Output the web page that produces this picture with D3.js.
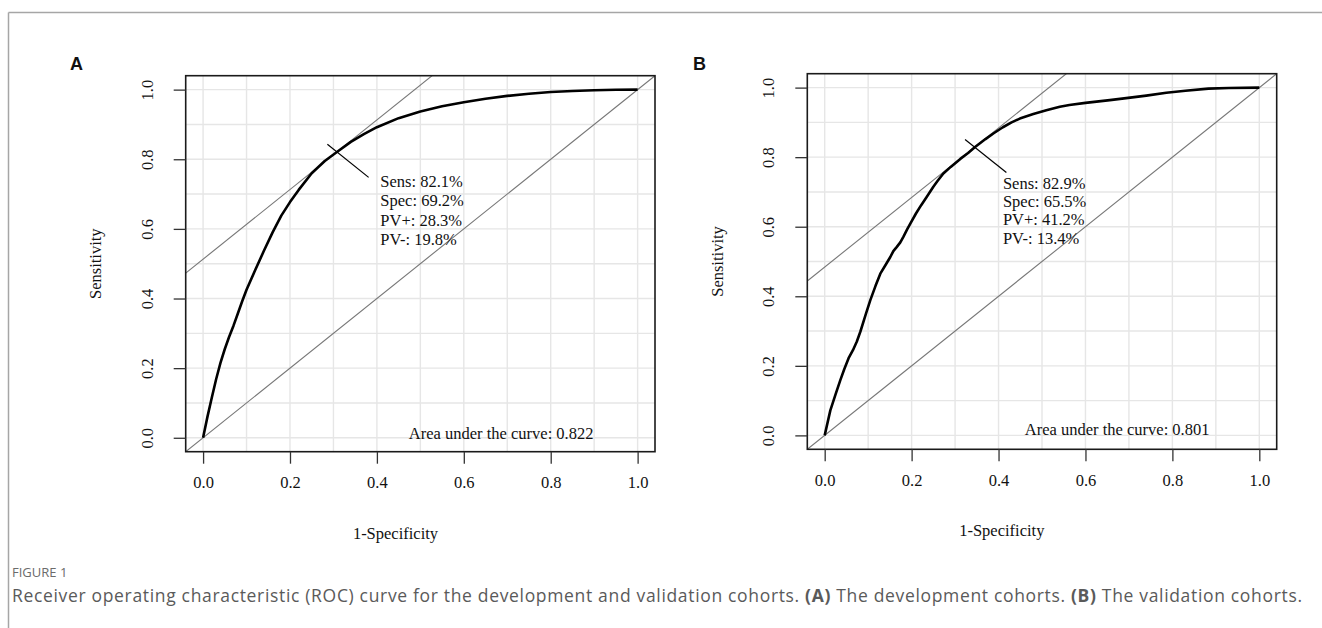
<!DOCTYPE html>
<html>
<head>
<meta charset="utf-8">
<script src="https://cdn.jsdelivr.net/npm/d3@7"></script>
<style>
  body { margin: 0; background: #fff; }
  .serif { font-family: "Liberation Serif", "Times New Roman", serif; fill: #111; }
</style>
</head>
<body>
<svg id="fig" width="1322" height="628"></svg>
<script>
// ROC curve points (1-specificity, sensitivity)
const fprA = [0, 0.01, 0.02, 0.03, 0.04, 0.05, 0.06, 0.07, 0.08, 0.09, 0.10, 0.12, 0.14, 0.16, 0.18, 0.20, 0.22, 0.25, 0.28, 0.308, 0.34, 0.37, 0.40, 0.45, 0.50, 0.55, 0.60, 0.65, 0.70, 0.75, 0.80, 0.85, 0.90, 0.95, 1.0];
const tprA = [0, 0.06, 0.115, 0.168, 0.215, 0.255, 0.29, 0.322, 0.357, 0.392, 0.425, 0.482, 0.537, 0.59, 0.638, 0.677, 0.712, 0.76, 0.795, 0.821, 0.85, 0.872, 0.892, 0.918, 0.937, 0.952, 0.964, 0.974, 0.982, 0.988, 0.993, 0.996, 0.998, 0.9995, 1.0];

const fprB = [0, 0.013, 0.025, 0.036, 0.045, 0.055, 0.065, 0.074, 0.082, 0.095, 0.105, 0.117, 0.128, 0.14, 0.151, 0.158, 0.166, 0.174, 0.181, 0.19, 0.197, 0.21, 0.222, 0.235, 0.25, 0.26, 0.273, 0.29, 0.312, 0.33, 0.346, 0.37, 0.388, 0.41, 0.43, 0.449, 0.48, 0.51, 0.541, 0.563, 0.6, 0.656, 0.689, 0.74, 0.786, 0.83, 0.883, 0.93, 1.0];
const tprB = [0, 0.072, 0.118, 0.159, 0.19, 0.222, 0.245, 0.27, 0.298, 0.35, 0.389, 0.43, 0.465, 0.49, 0.513, 0.53, 0.542, 0.555, 0.571, 0.593, 0.609, 0.638, 0.662, 0.686, 0.715, 0.732, 0.753, 0.772, 0.795, 0.812, 0.829, 0.852, 0.868, 0.886, 0.9, 0.911, 0.924, 0.935, 0.945, 0.95, 0.956, 0.964, 0.969, 0.977, 0.985, 0.991, 0.997, 0.999, 1.0];

// optimal cut-off point (1-spec, sens) and its printed statistics
const optA = [0.308, 0.821];
const optB = [0.345, 0.829];
const statsA = ["Sens: 82.1%", "Spec: 69.2%", "PV+: 28.3%", "PV-: 19.8%"];
const statsB = ["Sens: 82.9%", "Spec: 65.5%", "PV+: 41.2%", "PV-: 13.4%"];
const aucA = "Area under the curve: 0.822";
const aucB = "Area under the curve: 0.801";

const axisTicks = [0, 0.2, 0.4, 0.6, 0.8, 1.0];
const gridTicks = [0, 0.1, 0.2, 0.3, 0.4, 0.5, 0.6, 0.7, 0.8, 0.9, 1.0];
const xTitle = "1-Specificity";
const yTitle = "Sensitivity";
const figLabel = "FIGURE 1";
const captionParts = [
  ["Receiver operating characteristic (ROC) curve for the development and validation cohorts. ", false],
  ["(A)", true], [" The development cohorts. ", false],
  ["(B)", true], [" The validation cohorts.", false]
];

const svg = d3.select("#fig");
svg.append("rect").attr("width", 1322).attr("height", 628).attr("fill", "#fff");

// figure frame (top and left rule)
svg.append("line").attr("x1", 8.5).attr("x2", 1322).attr("y1", 12.5).attr("y2", 12.5)
  .attr("stroke", "#a6a6a6").attr("stroke-width", 1.5);
svg.append("line").attr("x1", 8.5).attr("x2", 8.5).attr("y1", 12.5).attr("y2", 628)
  .attr("stroke", "#a6a6a6").attr("stroke-width", 1.5);

function drawPanel(p) {
  const x = d3.scaleLinear().domain([-0.04, 1.04]).range([p.left, p.right]);
  const y = d3.scaleLinear().domain([-0.04, 1.04]).range([p.bottom, p.top]);
  const g = svg.append("g");

  g.append("clipPath").attr("id", "clip" + p.id)
    .append("rect")
    .attr("x", p.left).attr("y", p.top)
    .attr("width", p.right - p.left).attr("height", p.bottom - p.top);

  // grid
  g.selectAll(".vgrid").data(gridTicks).enter().append("line")
    .attr("x1", d => x(d)).attr("x2", d => x(d))
    .attr("y1", p.top).attr("y2", p.bottom)
    .attr("stroke", "#e6e6e6").attr("stroke-width", 1.4);
  g.selectAll(".hgrid").data(gridTicks).enter().append("line")
    .attr("y1", d => y(d)).attr("y2", d => y(d))
    .attr("x1", p.left).attr("x2", p.right)
    .attr("stroke", "#e6e6e6").attr("stroke-width", 1.4);

  const plot = g.append("g").attr("clip-path", `url(#clip${p.id})`);
  const line = d3.line().x(d => x(d[0])).y(d => y(d[1]));

  // chance diagonal and the slope-1 tangent through the optimal point
  const b = p.opt[1] - p.opt[0];
  plot.append("path").attr("d", line([[-0.04, -0.04], [1.04, 1.04]]))
    .attr("fill", "none").attr("stroke", "#777").attr("stroke-width", 1.1);
  plot.append("path").attr("d", line([[-0.04, -0.04 + b], [1.04, 1.04 + b]]))
    .attr("fill", "none").attr("stroke", "#777").attr("stroke-width", 1.1);

  // ROC curve
  plot.append("path").datum(p.fpr.map((f, i) => [f, p.tpr[i]]))
    .attr("d", line)
    .attr("fill", "none").attr("stroke", "#000").attr("stroke-width", 2.6)
    .attr("stroke-linejoin", "round");

  // marker segment at the optimal point
  g.append("path")
    .attr("d", line([[p.opt[0] - 0.022, p.opt[1] + 0.022], [p.opt[0] + 0.073, p.opt[1] - 0.073]]))
    .attr("stroke", "#000").attr("stroke-width", 1.2);

  // box
  g.append("rect")
    .attr("x", p.left).attr("y", p.top)
    .attr("width", p.right - p.left).attr("height", p.bottom - p.top)
    .attr("fill", "none").attr("stroke", "#1a1a1a").attr("stroke-width", 1.6);

  // axes ticks
  const xAxis = d3.axisBottom(x).tickValues(axisTicks).tickFormat(d3.format(".1f"))
    .tickSize(12).tickPadding(13);
  const xg = g.append("g").attr("transform", `translate(0,${p.bottom})`).call(xAxis);
  xg.select(".domain").remove();
  xg.selectAll("line").attr("stroke", "#333").attr("stroke-width", 1.3);
  xg.selectAll("text").attr("class", "serif").attr("font-size", 16.5);

  const yAxis = d3.axisLeft(y).tickValues(axisTicks).tickFormat(d3.format(".1f"))
    .tickSize(12).tickPadding(0);
  const yg = g.append("g").attr("transform", `translate(${p.left},0)`).call(yAxis);
  yg.select(".domain").remove();
  yg.selectAll("line").attr("stroke", "#333").attr("stroke-width", 1.3);
  // each tick group is already translated to its y position
  yg.selectAll("text")
    .attr("class", "serif").attr("font-size", 16.5)
    .attr("x", 0).attr("y", 0).attr("dy", null)
    .attr("text-anchor", "middle")
    .attr("transform", `translate(${-38.5 + 5.5},0) rotate(-90)`);

  // axis titles
  g.append("text").attr("class", "serif").attr("font-size", 16.5)
    .attr("text-anchor", "middle")
    .attr("x", p.xTitleX).attr("y", p.bottom + 87)
    .text(xTitle);
  g.append("text").attr("class", "serif").attr("font-size", 16.5)
    .attr("text-anchor", "middle")
    .attr("transform", `translate(${p.left - 90 + 5.5},${(p.top + p.bottom) / 2}) rotate(-90)`)
    .text(yTitle);

  // statistics text
  g.selectAll(".stat").data(p.stats).enter().append("text")
    .attr("class", "serif").attr("font-size", 16.5)
    .attr("x", x(p.statPos[0]))
    .attr("y", (d, i) => y(p.statPos[1]) + 5.5 + i * p.statGap)
    .text(d => d);

  g.append("text").attr("class", "serif").attr("font-size", 16.5)
    .attr("text-anchor", "middle")
    .attr("x", x(p.aucPos[0])).attr("y", y(p.aucPos[1]) + 5.5)
    .text(p.auc);

  // panel letter
  svg.append("text")
    .attr("x", p.letterX).attr("y", 70)
    .attr("font-family", "'Liberation Sans', Arial, sans-serif")
    .attr("font-weight", "bold").attr("font-size", 18)
    .attr("fill", "#111")
    .text(p.id);
}

drawPanel({
  id: "A", left: 185.7, right: 655, top: 75.7, bottom: 451.7,
  fpr: fprA, tpr: tprA, opt: optA, stats: statsA, auc: aucA,
  statPos: [0.408, 0.737], statGap: 19.5, aucPos: [0.686, 0.013],
  xTitleX: 395.5, letterX: 70
});
drawPanel({
  id: "B", left: 807.3, right: 1276.7, top: 73.7, bottom: 449.3,
  fpr: fprB, tpr: tprB, opt: optB, stats: statsB, auc: aucB,
  statPos: [0.41, 0.724], statGap: 18.2, aucPos: [0.673, 0.017],
  xTitleX: 1001.8, letterX: 693
});

// caption
svg.append("text")
  .attr("x", 12).attr("y", 577)
  .attr("font-family", "'Open Sans', 'Noto Sans', sans-serif")
  .attr("font-size", 13).attr("fill", "#6b6b6b")
  .text(figLabel);

const cap = svg.append("text")
  .attr("x", 12).attr("y", 602)
  .attr("font-family", "'Open Sans', 'Noto Sans', sans-serif")
  .attr("font-size", 17.5).attr("fill", "#5a5a5a")
  .attr("textLength", 1290).attr("lengthAdjust", "spacing");
captionParts.forEach(([t, bold]) => {
  cap.append("tspan").attr("font-weight", bold ? "bold" : null).text(t);
});
</script>
</body>
</html>
